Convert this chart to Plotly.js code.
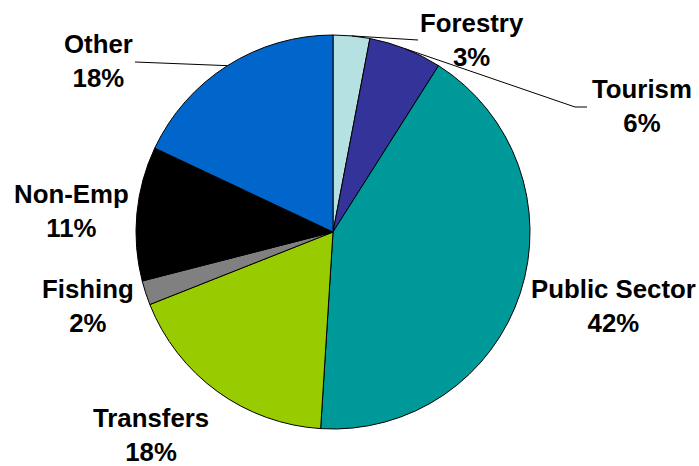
<!DOCTYPE html>
<html>
<head>
<meta charset="utf-8">
<script src="https://cdn.plot.ly/plotly-3.0.1.min.js"></script>
<style>html,body{margin:0;padding:0;background:#fff;}#chart{width:699px;height:466px;}</style>
</head>
<body>
<div id="chart"></div>
<script>
// Data
const categories = ["Forestry", "Tourism", "Public Sector", "Transfers", "Fishing", "Non-Emp", "Other"];
const shares = [3, 6, 42, 18, 2, 11, 18];
const percentLabels = ["3%", "6%", "42%", "18%", "2%", "11%", "18%"];
const sliceColors = ["#B5E1E3", "#333399", "#009999", "#99CC00", "#808080", "#000000", "#0066CC"];

// Layout config (pixels)
const W = 699, H = 466;
const cx = 333, cy = 232, R = 197;
// label centre positions (px) per category
const labelPos = {
  "Forestry": [472, 40],
  "Tourism": [642, 106],
  "Public Sector": [613, 306],
  "Transfers": [151, 435],
  "Fishing": [88, 306],
  "Non-Emp": [71, 211],
  "Other": [98, 61]
};
// leader line label-side points (px)
const leaders = {
  "Other": [[135, 62]],
  "Forestry": [[418, 40]],
  "Tourism": [[587, 107], [575, 107]]
};

const total = shares.reduce((a, b) => a + b, 0);
const px = x => x / W, py = y => 1 - y / H;

const annotations = categories.map((c, i) => ({
  xref: "paper", yref: "paper",
  x: px(labelPos[c][0]), y: py(labelPos[c][1]),
  xanchor: "center", yanchor: "middle",
  text: c + "<br>" + percentLabels[i],
  showarrow: false,
  font: {family: "Liberation Sans, Arial, sans-serif", size: 25.8, color: "#000", weight: "bold"}
}));

const shapes = [];
let cum = 0;
categories.forEach((c, i) => {
  const mid = (cum + shares[i] / 2) / total * 2 * Math.PI;
  cum += shares[i];
  if (!leaders[c]) return;
  const edge = [cx + R * Math.sin(mid), cy - R * Math.cos(mid)];
  const pts = leaders[c].concat([edge]);
  let d = "";
  pts.forEach((p, k) => { d += (k ? " L " : "M ") + px(p[0]) + "," + py(p[1]); });
  shapes.push({type: "path", xref: "paper", yref: "paper", path: d, line: {color: "#000", width: 1}});
});

const trace = {
  type: "pie",
  labels: categories,
  values: shares,
  sort: false,
  direction: "clockwise",
  rotation: 0,
  textinfo: "none",
  hoverinfo: "label+percent",
  marker: {colors: sliceColors, line: {color: "#000", width: 1}},
  domain: {x: [px(cx - R), px(cx + R)], y: [py(cy + R), py(cy - R)]},
  showlegend: false
};

Plotly.newPlot("chart", [trace], {
  width: W, height: H,
  margin: {l: 0, r: 0, t: 0, b: 0},
  paper_bgcolor: "#fff",
  showlegend: false,
  annotations: annotations,
  shapes: shapes
}, {staticPlot: true});
</script>
</body>
</html>
